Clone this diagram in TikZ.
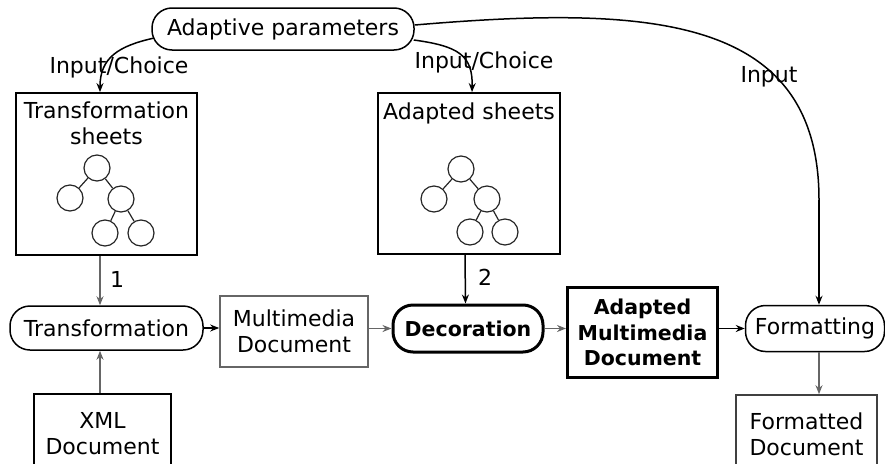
\documentclass[tikz,border=0pt]{standalone}
\usepackage{fontspec}
\setmainfont{DejaVu Sans}
\usetikzlibrary{arrows.meta,calc}
\begin{document}
\begin{tikzpicture}[x=1pt,y=-1pt,
  every node/.style={font=\fontsize{22}{26}\selectfont, inner sep=0pt, align=center},
  boldtext/.style={font=\fontsize{20.5}{25.5}\selectfont\bfseries},
  pill/.style={draw=black, line width=1.5pt, rounded corners=20pt, minimum width=#1, minimum height=44pt},
  thickpill/.style={draw=black, line width=3pt, rounded corners=20pt, minimum width=#1, minimum height=47pt},
  docbox/.style={draw=black, line width=1.6pt},
  sheetbox/.style={draw=black, line width=1.8pt},
  tn/.style={draw=black!85, circle, line width=1.2pt, minimum size=26pt},
  te/.style={line width=1.2pt, black!85},
  arr/.style={line width=1.5pt, -{Stealth[length=9pt,width=7pt]}},
  garr/.style={arr, draw=black!60},
  lbl/.style={font=\fontsize{22}{26}\selectfont}
]
\useasboundingbox (0,0) rectangle (885,463);

% adaptive parameters
\node[pill=262pt, minimum height=42pt] (ap) at (283,29) {Adaptive parameters};

% sheets boxes
\node[sheetbox, minimum width=181pt, minimum height=162pt] (ts) at (106.5,174) {};
\node[anchor=north] (tstxt) at ([yshift=-9pt]ts.north) {Transformation\\sheets};
\node[sheetbox, minimum width=182pt, minimum height=161pt] (as) at (469,173.5) {};
\node[anchor=north] (astxt) at ([yshift=-10pt]as.north) {Adapted sheets};

% trees
\node[tn] (a1) at (97,168) {};
\node[tn] (a2) at (70,198) {};
\node[tn] (a3) at (121,199) {};
\node[tn] (a4) at (105,233) {};
\node[tn] (a5) at (141,233) {};
\draw[te] (a1) -- (a2); \draw[te] (a1) -- (a3);
\draw[te] (a3) -- (a4); \draw[te] (a3) -- (a5);

\node[tn] (b1) at (461,169) {};
\node[tn] (b2) at (434,199) {};
\node[tn] (b3) at (487,199) {};
\node[tn] (b4) at (470,232) {};
\node[tn] (b5) at (505,232) {};
\draw[te] (b1) -- (b2); \draw[te] (b1) -- (b3);
\draw[te] (b3) -- (b4); \draw[te] (b3) -- (b5);

% process row
\node[pill=193pt] (tr) at (106.5,328) {Transformation};
\node[docbox, draw=black!60, minimum width=148pt, minimum height=71pt] (mm) at (294,331.5) {Multimedia\\Document};
\node[thickpill=150pt, boldtext] (dec) at (468,328.5) {Decoration};
\node[docbox, line width=3pt, minimum width=150pt, minimum height=90pt, boldtext] (amd) at (642.5,332.5) {Adapted\\Multimedia\\Document};
\node[pill=139pt, minimum height=46pt] (fmt) at (815,328.5) {Formatting};

% documents at bottom
\node[docbox, minimum width=137pt, minimum height=80pt] (xml) at (102.5,434) {XML\\Document};
\node[docbox, draw=black!75, minimum width=141pt, minimum height=78pt] (fd) at (806.5,434) {Formatted\\Document};

% connectors from adaptive parameters
\draw[arr] ($(ap.west)+(3,9)$) .. controls (118,46) and (100,58) .. ([xshift=-6.5pt]ts.north);
\node[lbl] (l1) at (119,67) {Input/Choice};
\draw[arr] ($(ap.east)+(-1,11)$) .. controls (458,46) and (473,55) .. ([xshift=3pt]as.north);
\node[lbl] (l2) at (484,62) {Input/Choice};
\coordinate (bend) at (819,200);
\draw[line width=1.5pt] ($(ap.east)+(0,-4)$) .. controls (650,5) and (819,15) .. (bend);
\draw[arr] (bend) -- ([xshift=4pt]fmt.north);
\node[lbl] (l3) at (769,77) {Input};

% vertical arrows
\draw[garr] ([xshift=-6.5pt]ts.south) -- ([xshift=-6.5pt]tr.north);
\node[lbl] (n1) at (117,279) {1};
\draw[arr] ([xshift=-4pt]as.south) -- ([xshift=-2.5pt]dec.north);
\node[lbl] (n2) at (485,277) {2};
\draw[garr] ([xshift=-2.5pt]xml.north) -- ([xshift=-6.5pt]tr.south);
\draw[garr] ([xshift=4pt]fmt.south) -- ([xshift=12.5pt]fd.north);

% horizontal arrows
\draw[arr] (tr.east) -- (mm.west |- tr.east);
\draw[garr] (mm.east |- dec.west) -- (dec.west);
\draw[garr] (dec.east) -- (amd.west |- dec.east);
\draw[arr] (amd.east |- fmt.west) -- (fmt.west);
\end{tikzpicture}
\end{document}
